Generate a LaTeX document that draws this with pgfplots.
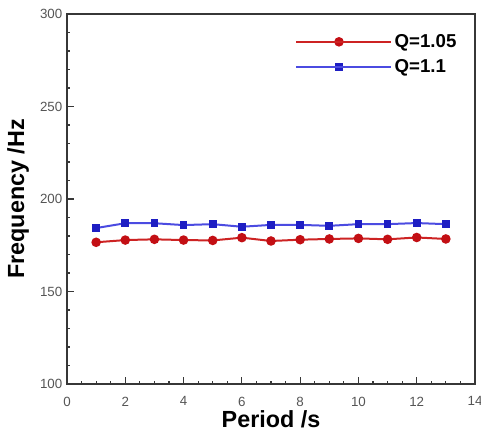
\documentclass[border=0pt]{standalone}
\usepackage{fontspec}
\setmainfont{Liberation Sans}
\usepackage{pgfplots}
\pgfplotsset{compat=1.18}
\definecolor{rred}{RGB}{205,35,35}
\definecolor{rmark}{RGB}{195,15,20}
\definecolor{bblue}{RGB}{75,75,225}
\definecolor{bmark}{RGB}{30,30,195}
\definecolor{tickgray}{RGB}{85,85,85}
\definecolor{axgray}{RGB}{55,55,55}
\begin{document}
\begin{tikzpicture}
\begin{axis}[
  name=ax,
  scale only axis,
  width=306pt, height=277.5pt,
  xmin=0, xmax=14, ymin=100, ymax=300,
  xtick={0,2,...,14}, ytick={100,150,...,300},
  minor x tick num=3, minor y tick num=4,
  tick pos=left, tick align=inside,
  major tick length=5pt, minor tick length=2.5pt,
  axis line style={line width=1.4pt, draw=axgray},
  every tick/.style={axgray, line width=0.9pt},
  /pgf/number format/assume math mode=true,
  tick label style={font=\fontsize{10}{12}\selectfont, text=tickgray},
  xticklabel style={yshift=-6pt},
  xlabel={\textbf{Period /s}}, ylabel={\textbf{Frequency /Hz}},
  label style={font=\fontsize{17.5}{20}\selectfont},
  xlabel style={at={(axis description cs:0.5,-0.096)}, anchor=center},
  ylabel style={at={(axis description cs:-0.12,0.5)}, anchor=center, rotate=0},
  legend style={draw=none, fill=none, at={(rel axis cs:0.559,0.953)}, anchor=north west,
    inner sep=0pt, font=\fontsize{14}{16}\selectfont\bfseries, row sep=3.5pt,
    nodes={inner sep=2pt}},
  legend cell align=left,
  legend image code/.code={
    \draw[#1] (0pt,0pt) -- (64pt,0pt);
    \draw[#1,only marks] plot coordinates {(32pt,0pt)};
    \path (0pt,0pt) -- (71pt,0pt);
  },
]
\addplot[rred, line width=1.5pt, mark=*, mark size=2.8pt, mark options={fill=rmark, draw=rmark}] coordinates {
(1,176.6) (2,177.8) (3,178.2) (4,177.8) (5,177.6) (6,179.1) (7,177.3) (8,178.0) (9,178.4) (10,178.7) (11,178.2) (12,179.2) (13,178.4)};
\addlegendentry{Q=1.05}
\addplot[bblue, line width=1.5pt, mark=square*, mark size=2.1pt, mark options={fill=bmark, draw=bmark}] coordinates {
(1,184.3) (2,186.9) (3,186.9) (4,185.9) (5,186.4) (6,185.0) (7,186.0) (8,186.0) (9,185.5) (10,186.4) (11,186.4) (12,187.0) (13,186.4)};
\addlegendentry{Q=1.1}
\end{axis}
\pgfresetboundingbox
\useasboundingbox ([shift={(-50.25pt,-37.5pt)}]ax.south west) rectangle ([shift={(4.5pt,10.5pt)}]ax.north east);
\end{tikzpicture}
\end{document}
